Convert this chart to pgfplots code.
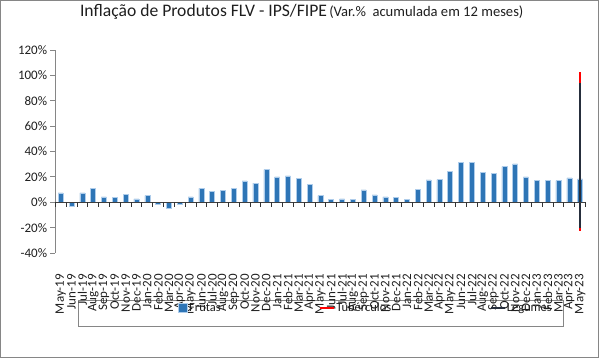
\documentclass[border=0pt]{standalone}
\usepackage{pgfplots}
\pgfplotsset{compat=1.18}
\usepackage{fontspec}
\setmainfont{Carlito}
\definecolor{barblue}{RGB}{46,117,182}
\definecolor{baredge}{RGB}{175,205,235}
\definecolor{axgray}{RGB}{134,134,134}
\definecolor{leg}{RGB}{38,46,60}
\definecolor{txt}{RGB}{30,30,30}
\pgfplotstableread{
x v
0 7.3
1 -3.0
2 7.3
3 11.0
4 4.2
5 3.7
6 6.0
7 2.6
8 5.2
9 -1.8
10 -4.7
11 -1.8
12 4.2
13 11.0
14 8.7
15 9.2
16 10.8
17 16.8
18 15.0
19 25.7
20 20.0
21 20.7
22 18.6
23 14.2
24 5.2
25 2.1
26 2.6
27 2.1
28 9.7
29 5.8
30 4.2
31 3.7
32 2.4
33 10.2
34 17.6
35 17.8
36 24.4
37 31.5
38 31.2
39 23.6
40 22.8
41 28.1
42 30.2
43 20.0
44 17.0
45 17.3
46 17.0
47 19.2
48 18.4
}\frutas
\begin{document}
\begin{tikzpicture}[x=1pt,y=1pt]
\draw[axgray, line width=0.8pt] (0.6pt,0.6pt) rectangle (598.4pt,357.6pt);
\node[anchor=base, text=txt, inner sep=0pt] at (301.7pt,341pt) {{\fontsize{17.6}{19}\selectfont Inflação de Produtos FLV - IPS/FIPE} {\fontsize{14.6}{16}\selectfont (Var.\%\ \ acumulada em 12 meses)}};
\draw[axgray, line width=0.8pt] (77.9pt,57.7pt) rectangle (563pt,32pt);
\begin{axis}[
  at={(55.3pt,105pt)}, anchor=south west, scale only axis,
  width=530.2pt, height=203pt,
  xmin=-0.5, xmax=48.5, ymin=-40, ymax=120,
  axis y line*=left, axis x line*=bottom,
  x axis line style={draw=none},
  y axis line style={axgray, line width=0.8pt, -},
  ytick={-40,-20,...,120},
  yticklabel={\pgfmathprintnumber{\tick}\%},
  /pgf/number format/assume math mode=true,
  ytick style={axgray, line width=0.8pt},
  tick align=outside, major tick length=5pt,
  yticklabel style={font=\fontsize{13}{15}\selectfont, text=txt, inner sep=0pt, xshift=-3pt},
  xtick={0,...,48},
  xticklabels={May-19,Jun-19,Jul-19,Aug-19,Sep-19,Oct-19,Nov-19,Dec-19,Jan-20,Feb-20,Mar-20,Apr-20,May-20,Jun-20,Jul-20,Aug-20,Sep-20,Oct-20,Nov-20,Dec-20,Jan-21,Feb-21,Mar-21,Apr-21,May-21,Jun-21,Jul-21,Aug-21,Sep-21,Oct-21,Nov-21,Dec-21,Jan-22,Feb-22,Mar-22,Apr-22,May-22,Jun-22,Jul-22,Aug-22,Sep-22,Oct-22,Nov-22,Dec-22,Jan-23,Feb-23,Mar-23,Apr-23,May-23},
  xtick style={draw=none},
  xticklabel style={yshift=-16pt, rotate=90, anchor=east, inner sep=0pt, font=\fontsize{13}{15}\selectfont, text=txt},
  legend columns=3,
  legend style={draw=none, fill=none, at={(axis description cs:0.2314,-0.2709)}, anchor=west, inner sep=0pt,
    font=\fontsize{12.5}{14}\selectfont, text=txt,
    nodes={inner sep=1.5pt},
    /tikz/every even column/.append style={column sep=97pt}},
  clip=false,
]
\addplot[ybar, bar width=5pt, fill=barblue, draw=baredge, line width=0.5pt,
  legend image code/.code={\fill[barblue, draw=baredge] (0pt,-4.5pt) rectangle (9pt,4.5pt);}]
  table[x=x, y=v] {\frutas};
\addlegendentry{Frutas}
\addplot[red, line width=1.8pt, mark=none,
  legend image code/.code={\draw[red, line width=1.5pt] (0pt,0pt) -- (14pt,0pt);}]
  coordinates {(48,-22.5) (48,40) (48,102.6)};
\addlegendentry{Tubérculos}
\addplot[leg, line width=1.8pt, mark=none,
  legend image code/.code={\draw[leg, line width=1.5pt] (0pt,0pt) -- (14pt,0pt);}]
  coordinates {(48,-20.5) (48,30) (48,93.7)};
\addlegendentry{Legumes}
\draw[black!75, line width=1pt] (axis cs:-0.5,0) -- (axis cs:48.5,0);
\pgfplotsinvokeforeach{0,...,49}{\draw[black!80, line width=0.8pt] (axis cs:#1-0.5,0) -- ++(0pt,-5pt);}
\end{axis}
\pgfresetboundingbox
\useasboundingbox (0pt,0pt) rectangle (600pt,358pt);
\end{tikzpicture}
\end{document}
